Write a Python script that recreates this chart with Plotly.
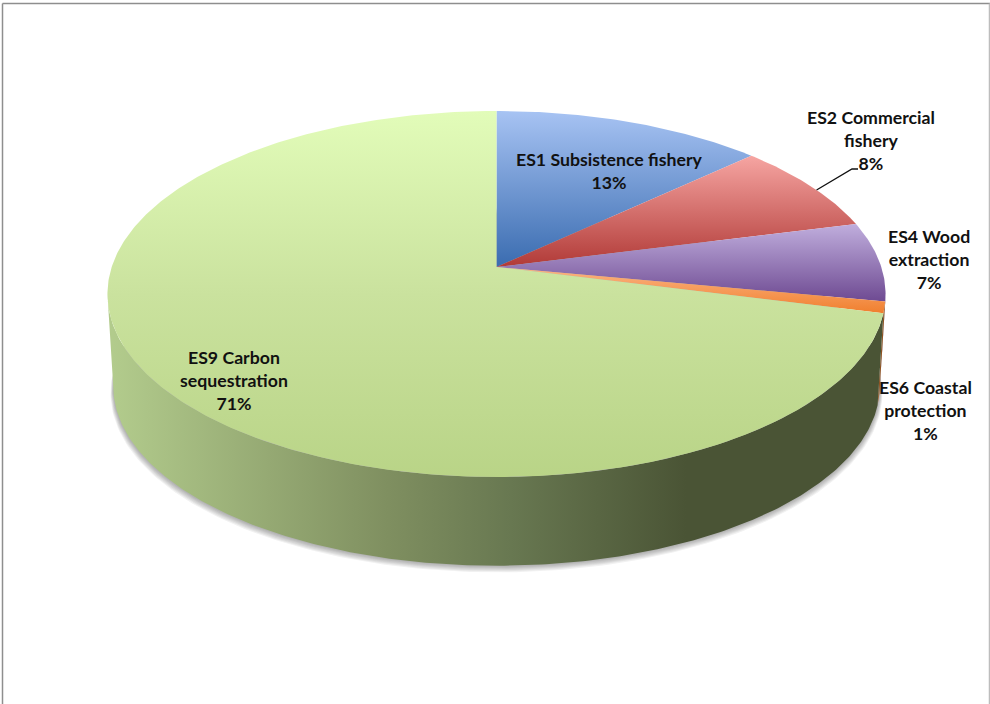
import numpy as np
import plotly.graph_objects as go

# Share of each ecosystem service, percent, clockwise from twelve o'clock
categories = ["ES1 Subsistence fishery", "ES2 Commercial fishery", "ES4 Wood extraction",
              "ES6 Coastal protection", "ES9 Carbon sequestration"]
shares = [13, 8, 7, 1, 71]
label_lines = [["ES1 Subsistence fishery"], ["ES2 Commercial", "fishery"], ["ES4 Wood", "extraction"],
               ["ES6 Coastal", "protection"], ["ES9 Carbon", "sequestration"]]
label_anchor_x = [609, 870.5, 928.5, 925, 233.5]
label_anchor_y = [171, 140.5, 259, 410, 380.5]

# Top-face gradient stops (far edge -> near edge) for every slice
top_colors = [
    [[0, "#A7C3F3"], [1, "#3A6CB0"]],
    [[0, "#F6A5A2"], [1, "#B13A37"]],
    [[0, "#C0AEDD"], [1, "#6E4A92"]],
    [[0, "#FCB584"], [1, "#F07F2E"]],
    [[0, "#E2FCB9"], [0.5, "#CAE29E"], [1, "#B9D487"]],
]
wall_stops = {
    2: [[0, "#5A4275"], [1, "#4A3366"]],
    3: [[0, "#B8682A"], [1, "#8F5220"]],
    4: [[0, "#B2CB8C"], [0.36, "#7F8F60"], [0.52, "#687851"], [0.75, "#4A5435"], [1, "#4A5435"]],
}

# Perspective model of the disc: the apex sits above the ellipse centre
APEX_X, APEX_Y = 496.5, 267.0
SCALE_X, SCALE_Y, TILT = 384.8, 179.0, 0.1475
DEPTH, BASE_SHRINK = 93.0, 0.985


def rim(theta):
    """Project rim angles (radians, clockwise from the far point) onto the page."""
    u, v = np.sin(theta), np.cos(theta)
    w = 1 + TILT * v
    return APEX_X + SCALE_X * u / w, APEX_Y - SCALE_Y * v / w


def base(theta):
    x, y = rim(theta)
    return APEX_X + BASE_SHRINK * (x - APEX_X), APEX_Y + 0.98 * (y - APEX_Y) + DEPTH


edges = np.radians(np.cumsum([0] + shares) * 3.6)
arcs = [np.linspace(a, b, max(int(s * 6), 12)) for a, b, s in zip(edges[:-1], edges[1:], shares)]

# The wall is only seen between the rim's two silhouette points
SIDE_RIGHT = np.arccos(-TILT)
SIDE_LEFT = 2 * np.pi - SIDE_RIGHT

fig = go.Figure()

# Soft drop shadow built from stacked, slightly growing base outlines
whole = np.linspace(0, 2 * np.pi, 360)
bx, by = base(whole)
for k in range(1, 7):
    fig.add_trace(go.Scatter(
        x=APEX_X + (bx - APEX_X) * (1 + 0.0012 * k), y=by + 1.1 * k,
        mode="lines", line=dict(width=0), fill="toself", fillcolor="rgba(0,0,0,0.055)",
    ))

# Outer wall, painted back to front
for i in (2, 3, 4):
    arc = arcs[i][(arcs[i] >= SIDE_RIGHT) & (arcs[i] <= SIDE_LEFT)]
    arc = np.r_[max(arcs[i][0], SIDE_RIGHT), arc, min(arcs[i][-1], SIDE_LEFT)]
    tx, ty = rim(arc)
    lx, ly = base(arc)
    fig.add_trace(go.Scatter(
        x=np.r_[tx, lx[::-1]], y=np.r_[ty, ly[::-1]],
        mode="lines", line=dict(width=0), fill="toself",
        fillgradient=dict(type="horizontal", colorscale=wall_stops[i],
                          start=float(lx.min()), stop=float(lx.max())),
    ))

# Top face
for arc, stops in zip(arcs, top_colors):
    tx, ty = rim(arc)
    px, py = np.r_[APEX_X, tx, APEX_X], np.r_[APEX_Y, ty, APEX_Y]
    fig.add_trace(go.Scatter(
        x=px, y=py, mode="lines", line=dict(width=0), fill="toself",
        fillgradient=dict(type="vertical", colorscale=stops,
                          start=float(py.min()), stop=float(py.max())),
    ))

# Leader line for the ES2 label
lead_angle = np.radians((shares[0] + shares[1] * 0.55) * 3.6)
lead_x, lead_y = rim(np.array([lead_angle]))
fig.add_trace(go.Scatter(
    x=[lead_x[0], 852, 858], y=[lead_y[0], 169, 169], mode="lines",
    line=dict(color="#111111", width=1.3),
))

annotations = []
for lines, share, ax, ay in zip(label_lines, shares, label_anchor_x, label_anchor_y):
    annotations.append(dict(
        x=ax, y=ay, xref="x", yref="y", showarrow=False, align="center",
        text="<br>".join(lines + [f"{share}%"]),
        font=dict(family="Lato", size=17.7, color="#111111", weight="bold"),
    ))

# Page frame
frame = [dict(x0=2.5, x1=2.5, y0=3.5, y1=704, color="#8E8E8E"),
         dict(x0=2.5, x1=990, y0=3.5, y1=3.5, color="#8E8E8E"),
         dict(x0=989.5, x1=989.5, y0=3.5, y1=704, color="#BDBDBD")]
shapes = [dict(type="line", xref="x", yref="y", x0=f["x0"], x1=f["x1"], y0=f["y0"], y1=f["y1"],
               line=dict(color=f["color"], width=1.5)) for f in frame]

fig.update_layout(
    width=990, height=704, margin=dict(l=0, r=0, t=0, b=0),
    paper_bgcolor="white", plot_bgcolor="white", showlegend=False, hovermode=False,
    xaxis=dict(range=[0, 990], visible=False, fixedrange=True),
    yaxis=dict(range=[704, 0], visible=False, fixedrange=True),
    annotations=annotations, shapes=shapes,
)
fig.write_html("out.html")
